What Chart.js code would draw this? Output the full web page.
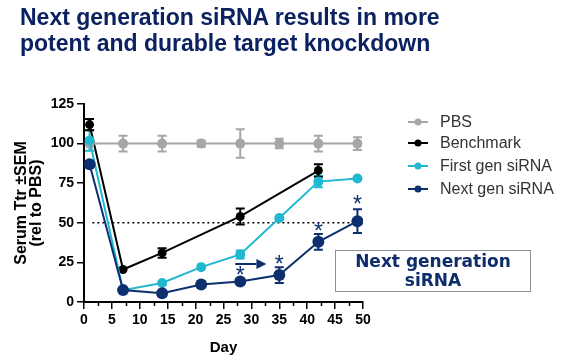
<!DOCTYPE html>
<html>
<head>
<meta charset="utf-8">
<script src="https://cdn.jsdelivr.net/npm/chart.js@4"></script>
<style>
  html, body { margin: 0; padding: 0; background: #fff; }
  #wrap { position: relative; width: 563px; height: 361px; overflow: hidden; }
  #title {
    position: absolute; left: 20px; top: 4px;
    font: bold 23px "Liberation Sans", Arial, sans-serif;
    line-height: 26px; color: #0b2160;
  }
  #note {
    position: absolute; left: 335px; top: 250px; width: 196px; height: 42px;
    border: 1px solid #8a8f99; box-sizing: border-box;
    font: bold 17px "DejaVu Sans", Verdana, sans-serif; color: #0d2d6b;
    text-align: center; line-height: 19px; padding-top: 1px;
  }
  canvas { position: absolute; left: 0; top: 0; }
</style>
</head>
<body>
<div id="wrap">
  <canvas id="chart" width="563" height="361"></canvas>
  <div id="title">Next generation siRNA results in more<br>potent and durable target knockdown</div>
  <div id="note">Next generation<br>siRNA</div>
</div>
<script>
  // data
  const seriesNames = ['PBS', 'Benchmark', 'First gen siRNA', 'Next gen siRNA'];
  const seriesColors = ['#a6a6a6', '#000000', '#1fb8d0', '#0d2f6e'];

  const pbsDays = [1, 7, 14, 21, 28, 35, 42, 49];
  const pbsValues = [100, 100, 100, 100, 100, 100, 100, 100];
  const pbsErr = [0, 5, 5, 2, 9, 3, 5, 4];

  const benchDays = [1, 7, 14, 28, 42];
  const benchValues = [112, 20.5, 31, 54, 83];
  const benchErr = [3.5, 1, 3, 5, 4];

  const firstDays = [1, 7, 14, 21, 28, 35, 42, 49];
  const firstValues = [102, 7.5, 12, 22, 30, 53, 76, 78];
  const firstErr = [6.5, 1, 1, 1, 2.5, 1, 3.5, 1];

  const nextDays = [1, 7, 14, 21, 28, 35, 42, 49];
  const nextValues = [87, 7.5, 5.5, 11, 13, 17, 38, 51];
  const nextErr = [2, 1, 1, 1, 1, 5, 5, 7.5];

  const thresholdValue = 50;
  const starDays = [28, 35, 42, 49];
  const starValues = [19, 26, 47, 64];

  const xTicks = [0, 5, 10, 15, 20, 25, 30, 35, 40, 45, 50];
  const xMinorTicks = [2.5, 7.5, 12.5, 17.5, 22.5, 27.5, 32.5, 37.5, 42.5, 47.5];
  const yTicks = [0, 25, 50, 75, 100, 125];

  const toPts = (xs, ys) => xs.map((x, i) => ({ x: x, y: ys[i] }));

  function makeSet(i, days, vals, errs, radius) {
    return {
      label: seriesNames[i],
      data: toPts(days, vals),
      errors: errs,
      borderColor: seriesColors[i],
      backgroundColor: seriesColors[i],
      borderWidth: 2,
      pointRadius: radius,
      pointBorderWidth: 0,
      tension: 0
    };
  }

  const datasets = [
    makeSet(3, nextDays, nextValues, nextErr, 6),
    makeSet(2, firstDays, firstValues, firstErr, 5),
    makeSet(0, pbsDays, pbsValues, pbsErr, 5),
    makeSet(1, benchDays, benchValues, benchErr, 4.5),
    {
      label: 'threshold',
      data: [{ x: 1.5, y: thresholdValue }, { x: 50, y: thresholdValue }],
      borderColor: '#000',
      borderWidth: 1.5,
      borderDash: [2, 3],
      pointRadius: 0,
      order: 10
    }
  ];

  const errorBars = {
    id: 'errorBars',
    beforeDatasetsDraw(chart) {
      const ctx = chart.ctx;
      const xs = chart.scales.x, ys = chart.scales.y;
      ctx.save();
      chart.data.datasets.forEach(ds => {
        if (!ds.errors) return;
        ctx.strokeStyle = ds.borderColor;
        ctx.lineWidth = 2;
        ds.data.forEach((p, i) => {
          const e = ds.errors[i];
          if (e < 1.5) return;
          const px = xs.getPixelForValue(p.x);
          const top = ys.getPixelForValue(p.y + e);
          const bot = ys.getPixelForValue(p.y - e);
          ctx.beginPath();
          ctx.moveTo(px, top); ctx.lineTo(px, bot);
          ctx.moveTo(px - 4.5, top); ctx.lineTo(px + 4.5, top);
          ctx.moveTo(px - 4.5, bot); ctx.lineTo(px + 4.5, bot);
          ctx.stroke();
        });
      });
      ctx.restore();
    }
  };

  const extras = {
    id: 'extras',
    afterDraw(chart) {
      const ctx = chart.ctx;
      const xs = chart.scales.x, ys = chart.scales.y;
      ctx.save();
      // minor x ticks
      ctx.strokeStyle = '#000';
      ctx.lineWidth = 1.5;
      const base = chart.chartArea.bottom;
      xMinorTicks.forEach(v => {
        const px = Math.round(xs.getPixelForValue(v)) + 0.5;
        ctx.beginPath(); ctx.moveTo(px, base); ctx.lineTo(px, base + 4); ctx.stroke();
      });
      // asterisks
      ctx.fillStyle = seriesColors[3];
      ctx.font = '23px "Liberation Sans", Arial, sans-serif';
      ctx.textAlign = 'center';
      ctx.textBaseline = 'middle';
      starDays.forEach((d, i) => {
        ctx.fillText('*', xs.getPixelForValue(d), ys.getPixelForValue(starValues[i]) + 5);
      });
      // arrow
      const ay = ys.getPixelForValue(24);
      const x0 = xs.getPixelForValue(27.1), x1 = xs.getPixelForValue(30.9), x2 = xs.getPixelForValue(32.7);
      ctx.strokeStyle = seriesColors[3];
      ctx.lineWidth = 2;
      ctx.beginPath(); ctx.moveTo(x0, ay); ctx.lineTo(x1, ay); ctx.stroke();
      ctx.beginPath(); ctx.moveTo(x1, ay - 5); ctx.lineTo(x2, ay); ctx.lineTo(x1, ay + 5); ctx.closePath(); ctx.fill();
      // legend
      const rows = [122, 143, 166, 189];
      ctx.font = '16px "Liberation Sans", Arial, sans-serif';
      ctx.textAlign = 'left';
      seriesNames.forEach((name, k) => {
        const y = rows[k];
        ctx.strokeStyle = seriesColors[k];
        ctx.fillStyle = seriesColors[k];
        ctx.lineWidth = 2;
        ctx.beginPath(); ctx.moveTo(408, y); ctx.lineTo(428, y); ctx.stroke();
        ctx.beginPath(); ctx.arc(418, y, 3.5, 0, Math.PI * 2); ctx.fill();
        ctx.fillStyle = '#333';
        ctx.fillText(name, 440, y + 1);
      });
      ctx.restore();
    }
  };

  new Chart(document.getElementById('chart'), {
    type: 'line',
    data: { datasets },
    options: {
      responsive: false,
      animation: false,
      layout: { padding: { left: 0, top: 104, right: 200, bottom: 0 } },
      plugins: { legend: { display: false }, tooltip: { enabled: false } },
      scales: {
        x: {
          type: 'linear', min: 0, max: 50,
          afterFit: s => { s.height = 59; },
          afterBuildTicks: s => { s.ticks = xTicks.map(v => ({ value: v })); },
          border: { color: '#000', width: 2 },
          grid: { drawOnChartArea: false, drawTicks: true, tickLength: 7, color: '#000', lineWidth: 1.5 },
          ticks: {
            autoSkip: false, maxRotation: 0, padding: 3, color: '#000',
            font: { family: '"Liberation Sans", Arial, sans-serif', size: 14, weight: 'bold' }
          },
          title: {
            display: true, text: 'Day', color: '#000', padding: { top: 4 },
            font: { family: '"Liberation Sans", Arial, sans-serif', size: 15, weight: 'bold' }
          }
        },
        y: {
          min: 0, max: 125,
          afterFit: s => { s.width = 84; },
          afterBuildTicks: s => { s.ticks = yTicks.map(v => ({ value: v })); },
          border: { color: '#000', width: 2 },
          grid: { drawOnChartArea: false, drawTicks: true, tickLength: 7, color: '#000', lineWidth: 1.5 },
          ticks: {
            padding: 3, color: '#000',
            font: { family: '"Liberation Sans", Arial, sans-serif', size: 14, weight: 'bold' }
          },
          title: {
            display: true, text: ['Serum Ttr \u00b1SEM', '(rel to PBS)'], color: '#000',
            padding: { top: 14, bottom: 0 },
            font: { family: '"Liberation Sans", Arial, sans-serif', size: 16, weight: 'bold', lineHeight: 0.95 }
          }
        }
      }
    },
    plugins: [errorBars, extras]
  });
</script>
</body>
</html>
